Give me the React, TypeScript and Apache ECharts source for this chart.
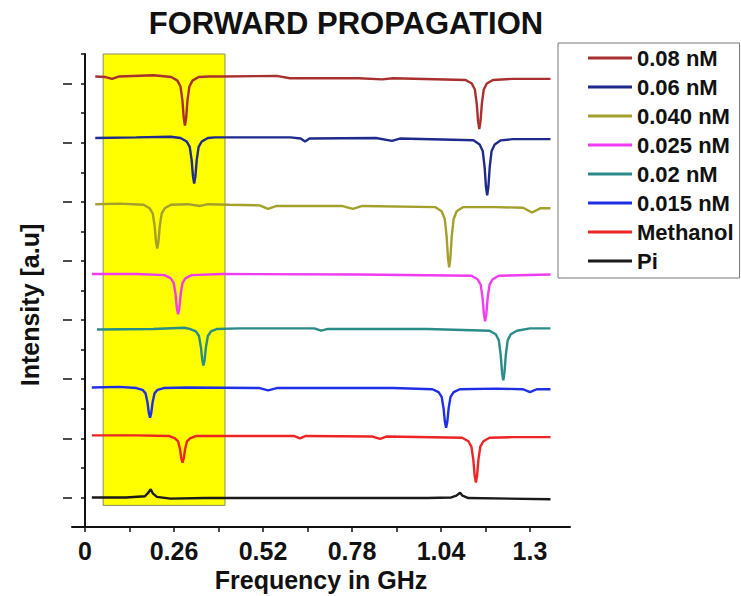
import React, { useEffect, useRef } from "react";
import * as echarts from "echarts";

const FONT = "'Liberation Sans', Arial, sans-serif";

const seriesNames = ["0.08 nM", "0.06 nM", "0.040 nM", "0.025 nM", "0.02 nM", "0.015 nM", "Methanol", "Pi"];
const seriesColors = ["#a8302e", "#1e2a8c", "#a3a02c", "#f03cf0", "#2a8c88", "#1f2fe6", "#ee2424", "#1a1a1a"];

const xTickValues = [0, 0.13, 0.26, 0.39, 0.52, 0.65, 0.78, 0.91, 1.04, 1.17, 1.3];
const xLabelValues = [0, 0.26, 0.52, 0.78, 1.04, 1.3];
const yMajorTicks = [1, 2, 3, 4, 5, 6, 7, 8];

const highlightBox = { x0: 0.053, x1: 0.409, y0: 0.865, y1: 8.61 };

const s008 = [
  [0.03, 8.12], [0.06, 8.11], [0.079, 8.08], [0.1, 8.12], [0.2, 8.14],
  [0.252, 8.11], [0.27, 8.05], [0.279, 7.95], [0.2845, 7.72], [0.2885, 7.42], [0.292, 7.29],
  [0.2955, 7.42], [0.2995, 7.72], [0.305, 7.95], [0.314, 8.05], [0.332, 8.11],
  [0.36, 8.12], [0.4, 8.12], [0.56, 8.13], [0.599, 8.09], [0.63, 8.09], [0.8, 8.09],
  [0.868, 8.07], [0.9, 8.09],
  [1.112, 8.06], [1.13, 8.0], [1.139, 7.9], [1.1445, 7.66], [1.1485, 7.36], [1.152, 7.23],
  [1.1555, 7.36], [1.1595, 7.66], [1.165, 7.9], [1.174, 8.0], [1.192, 8.06],
  [1.25, 8.08], [1.36, 8.08],
];

const s006 = [
  [0.03, 7.08], [0.15, 7.09], [0.25, 7.1],
  [0.279, 7.08], [0.297, 7.02], [0.306, 6.93], [0.3115, 6.71], [0.3155, 6.43], [0.319, 6.31],
  [0.3225, 6.43], [0.3265, 6.71], [0.332, 6.93], [0.341, 7.02], [0.359, 7.08],
  [0.38, 7.09], [0.6, 7.09], [0.63, 7.07], [0.643, 7.02], [0.656, 7.07], [0.85, 7.08],
  [0.897, 7.03], [0.92, 7.07],
  [1.135, 7.04], [1.153, 6.97], [1.162, 6.86], [1.1675, 6.59], [1.1715, 6.25], [1.175, 6.11],
  [1.1785, 6.25], [1.1825, 6.59], [1.188, 6.86], [1.197, 6.97], [1.215, 7.04],
  [1.25, 7.06], [1.36, 7.06],
];

const s0040 = [
  [0.03, 5.96], [0.1, 5.97],
  [0.171, 5.95], [0.189, 5.89], [0.198, 5.8], [0.2035, 5.59], [0.2075, 5.32], [0.211, 5.21],
  [0.2145, 5.32], [0.2185, 5.59], [0.224, 5.8], [0.233, 5.89], [0.251, 5.95],
  [0.3, 5.96], [0.336, 5.93], [0.36, 5.96], [0.42, 5.95], [0.51, 5.94], [0.535, 5.88],
  [0.56, 5.93], [0.75, 5.93], [0.783, 5.88], [0.81, 5.93],
  [1.024, 5.91], [1.042, 5.84], [1.051, 5.71], [1.0565, 5.42], [1.0605, 5.05], [1.064, 4.89],
  [1.0675, 5.05], [1.0715, 5.42], [1.077, 5.71], [1.086, 5.84], [1.104, 5.91],
  [1.2, 5.91], [1.28, 5.9], [1.306, 5.82], [1.33, 5.89], [1.36, 5.89],
];

const s0025 = [
  [0.02, 4.78], [0.15, 4.78],
  [0.232, 4.76], [0.25, 4.71], [0.259, 4.63], [0.2645, 4.44], [0.2685, 4.2], [0.272, 4.1],
  [0.2755, 4.2], [0.2795, 4.44], [0.285, 4.63], [0.294, 4.71], [0.312, 4.76],
  [0.4, 4.78], [0.8, 4.77],
  [1.129, 4.75], [1.147, 4.69], [1.156, 4.6], [1.1615, 4.38], [1.1655, 4.1], [1.169, 3.98],
  [1.1725, 4.1], [1.1765, 4.38], [1.182, 4.6], [1.191, 4.69], [1.209, 4.75],
  [1.36, 4.77],
];

const s002 = [
  [0.035, 3.84], [0.2, 3.85], [0.29, 3.87],
  [0.306, 3.85], [0.324, 3.81], [0.333, 3.73], [0.3385, 3.55], [0.3425, 3.33], [0.346, 3.23],
  [0.3495, 3.33], [0.3535, 3.55], [0.359, 3.73], [0.368, 3.81], [0.386, 3.85],
  [0.45, 3.86], [0.67, 3.86], [0.69, 3.82], [0.71, 3.85], [1.0, 3.85],
  [1.182, 3.82], [1.2, 3.76], [1.209, 3.66], [1.2145, 3.41], [1.2185, 3.11], [1.222, 2.98],
  [1.2255, 3.11], [1.2295, 3.41], [1.235, 3.66], [1.244, 3.76], [1.262, 3.82],
  [1.3, 3.86], [1.36, 3.86],
];

const s0015 = [
  [0.02, 2.86], [0.1, 2.87],
  [0.15, 2.85], [0.168, 2.82], [0.177, 2.76], [0.1825, 2.61], [0.1865, 2.43], [0.19, 2.35],
  [0.1935, 2.43], [0.1975, 2.61], [0.203, 2.76], [0.212, 2.82], [0.23, 2.85],
  [0.3, 2.86], [0.51, 2.85], [0.535, 2.81], [0.56, 2.85], [0.9, 2.85],
  [1.015, 2.83], [1.033, 2.78], [1.042, 2.7], [1.0475, 2.51], [1.0515, 2.28], [1.055, 2.18],
  [1.0585, 2.28], [1.0625, 2.51], [1.068, 2.7], [1.077, 2.78], [1.095, 2.83],
  [1.2, 2.84], [1.28, 2.83], [1.3, 2.78], [1.32, 2.83], [1.36, 2.83],
];

const sMethanol = [
  [0.02, 2.05], [0.15, 2.05],
  [0.245, 2.04], [0.263, 2.0], [0.272, 1.95], [0.2775, 1.82], [0.2815, 1.66], [0.285, 1.59],
  [0.2885, 1.66], [0.2925, 1.82], [0.298, 1.95], [0.307, 2.0], [0.325, 2.04],
  [0.4, 2.04], [0.61, 2.04], [0.628, 2.0], [0.645, 2.04], [0.84, 2.03], [0.862, 1.99], [0.88, 2.03],
  [1.102, 2.01], [1.12, 1.95], [1.129, 1.86], [1.1345, 1.64], [1.1385, 1.37], [1.142, 1.25],
  [1.1455, 1.37], [1.1495, 1.64], [1.155, 1.86], [1.164, 1.95], [1.182, 2.01],
  [1.25, 2.02], [1.36, 2.02],
];

const sPi = [
  [0.02, 1.0], [0.12, 1.0], [0.175, 1.02], [0.185, 1.08], [0.192, 1.14], [0.198, 1.07],
  [0.21, 1.01], [0.25, 0.98], [0.35, 0.99], [0.6, 0.99], [1.0, 0.99], [1.07, 1.0],
  [1.085, 1.03], [1.096, 1.08], [1.103, 1.03], [1.12, 0.99], [1.36, 0.97],
];

const seriesData = [s008, s006, s0040, s0025, s002, s0015, sMethanol, sPi];

export default function App() {
  const ref = useRef<HTMLDivElement>(null);

  useEffect(() => {
    if (!ref.current) return;
    const chart = echarts.init(ref.current, undefined, { renderer: "svg" });

    const series: any[] = seriesNames.map((name, i) => ({
      name,
      type: "line",
      data: seriesData[i],
      showSymbol: false,
      symbol: "none",
      z: 3,
      lineStyle: { color: seriesColors[i], width: 2.4 },
      itemStyle: { color: seriesColors[i] },
    }));
    series.push({
      name: "box",
      type: "line",
      data: [],
      z: 1,
      markArea: {
        silent: true,
        itemStyle: { color: "#ffff00", borderColor: "#8a8a6a", borderWidth: 1 },
        data: [[
          { xAxis: highlightBox.x0, yAxis: highlightBox.y1 },
          { xAxis: highlightBox.x1, yAxis: highlightBox.y0 },
        ]],
      },
    });

    chart.setOption({
      animation: false,
      backgroundColor: "#ffffff",
      title: {
        text: "FORWARD PROPAGATION",
        left: 341,
        textAlign: "center",
        top: 3,
        textStyle: { fontFamily: FONT, fontSize: 31, fontWeight: "bold", color: "#111" },
      },
      legend: {
        data: seriesNames,
        orient: "vertical",
        left: 558,
        top: 43,
        icon: "rect",
        itemWidth: 44,
        itemHeight: 3,
        itemGap: 7,
        itemTextGap: 4,
        padding: [4, 6, 6, 30],
        borderColor: "#777",
        borderWidth: 1,
        textStyle: { fontFamily: FONT, fontSize: 22, fontWeight: "bold", color: "#111", lineHeight: 22 },
      },
      grid: { left: 72, right: 171, top: 54, bottom: 69, containLabel: false, outerBoundsMode: "none" },
      xAxis: {
        type: "value",
        min: -0.038,
        max: 1.417,
        name: "Frequency in GHz",
        nameLocation: "middle",
        nameGap: 40,
        nameTextStyle: { fontFamily: FONT, fontSize: 25, fontWeight: "bold", color: "#111", lineHeight: 25 },
        axisLine: { show: true, lineStyle: { color: "#111", width: 2 } },
        axisTick: { show: true, customValues: xTickValues, length: 5, lineStyle: { color: "#111", width: 1.5 } },
        axisLabel: {
          customValues: xLabelValues,
          margin: 11,
          fontFamily: FONT,
          fontSize: 25,
          fontWeight: "bold",
          color: "#111",
          formatter: (v: number) => String(v),
        },
        splitLine: { show: false },
      },
      yAxis: [
        {
          type: "value",
          min: 0.5,
          max: 8.5,
          interval: 0.5,
          axisLine: { show: true, lineStyle: { color: "#111", width: 2 } },
          axisTick: { show: true, length: 4, lineStyle: { color: "#111", width: 1.5 } },
          axisLabel: { show: false },
          splitLine: { show: false },
        },
        {
          type: "value",
          min: 0.5,
          max: 8.5,
          position: "left",
          offset: 0,
          axisLine: { show: false },
          axisTick: { show: true, customValues: yMajorTicks, length: 9, lineStyle: { color: "#111", width: 1.5 } },
          axisLabel: { show: false },
          splitLine: { show: false },
        },
      ],
      graphic: [
        {
          type: "text",
          x: 30,
          y: 305,
          rotation: Math.PI / 2,
          style: {
            text: "Intensity [a.u]",
            fontFamily: FONT,
            fontSize: 25,
            fontWeight: "bold",
            fill: "#111",
            align: "center",
            verticalAlign: "middle",
          },
        },
      ],
      series,
    });

    return () => chart.dispose();
  }, []);

  return <div ref={ref} style={{ position: "fixed", left: 0, top: 0, width: 741, height: 596 }} />;
}
